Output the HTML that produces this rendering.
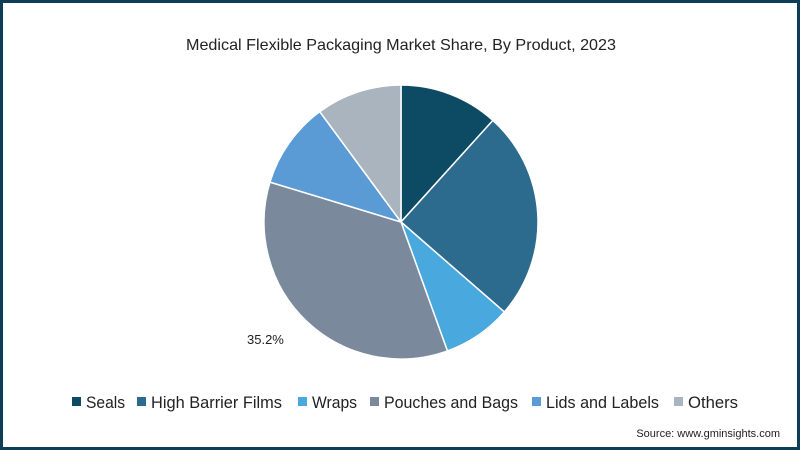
<!DOCTYPE html>
<html><head><meta charset="utf-8"><style>
html,body{margin:0;padding:0;background:#fff}
#frame{position:absolute;left:0;top:0;width:794px;height:444px;border:3px solid #0f3d56;background:#fff}
svg{position:absolute;left:0;top:0}
text{font-family:"Liberation Sans",sans-serif}
</style></head><body>
<div id="frame"></div>
<svg id="chart" width="800" height="450">
<text x="401" y="50" text-anchor="middle" font-size="16" fill="#222" textLength="430" lengthAdjust="spacingAndGlyphs">Medical Flexible Packaging Market Share, By Product, 2023</text>
<g id="slices"></g>
<text x="247" y="344" font-size="13" fill="#222">35.2%</text>
<g id="legend"></g>
<text x="780" y="437" text-anchor="end" font-size="11" fill="#222">Source: www.gminsights.com</text>
</svg>
<script>
const categories=["Seals","High Barrier Films","Wraps","Pouches and Bags","Lids and Labels","Others"];
const values=[11.7,24.7,8.1,35.2,10.2,10.1];
const colors=["#0d4a63","#2d6b8e","#49a8de","#7a8a9c","#5b9bd5","#a9b4bf"];
const legendX=[72,137,298,370,532,674];
const legendW=[39,131,45,134,113,50];
const ns="http://www.w3.org/2000/svg";
const cx=401,cy=222,r=137;
const total=values.reduce((a,b)=>a+b,0);
let acc=0;
const g=document.getElementById('slices');
function pt(f){const a=f*2*Math.PI;return [cx+r*Math.sin(a),cy-r*Math.cos(a)];}
values.forEach((v,i)=>{
  const f0=acc/total;acc+=v;const f1=acc/total;
  const [x0,y0]=pt(f0),[x1,y1]=pt(f1);
  const p=document.createElementNS(ns,'path');
  p.setAttribute('d',`M${cx},${cy}L${x0},${y0}A${r},${r} 0 ${f1-f0>0.5?1:0} 1 ${x1},${y1}Z`);
  p.setAttribute('fill',colors[i]);p.setAttribute('stroke','#fff');p.setAttribute('stroke-width','1.5');
  
  
  g.appendChild(p);
});
const lg=document.getElementById('legend');
categories.forEach((c,i)=>{
  const it=document.createElementNS(ns,'g');
  
  
  const s=document.createElementNS(ns,'rect');
  s.setAttribute('x',legendX[i]);s.setAttribute('y',397);s.setAttribute('width',9);s.setAttribute('height',9);s.setAttribute('fill',colors[i]);
  const t=document.createElementNS(ns,'text');
  t.setAttribute('x',legendX[i]+14);t.setAttribute('y',408);t.setAttribute('font-size','17');t.setAttribute('fill','#222');
  t.setAttribute('textLength',legendW[i]);t.setAttribute('lengthAdjust','spacingAndGlyphs');
  t.textContent=c;
  it.appendChild(s);it.appendChild(t);lg.appendChild(it);
});
</script>
</body></html>
